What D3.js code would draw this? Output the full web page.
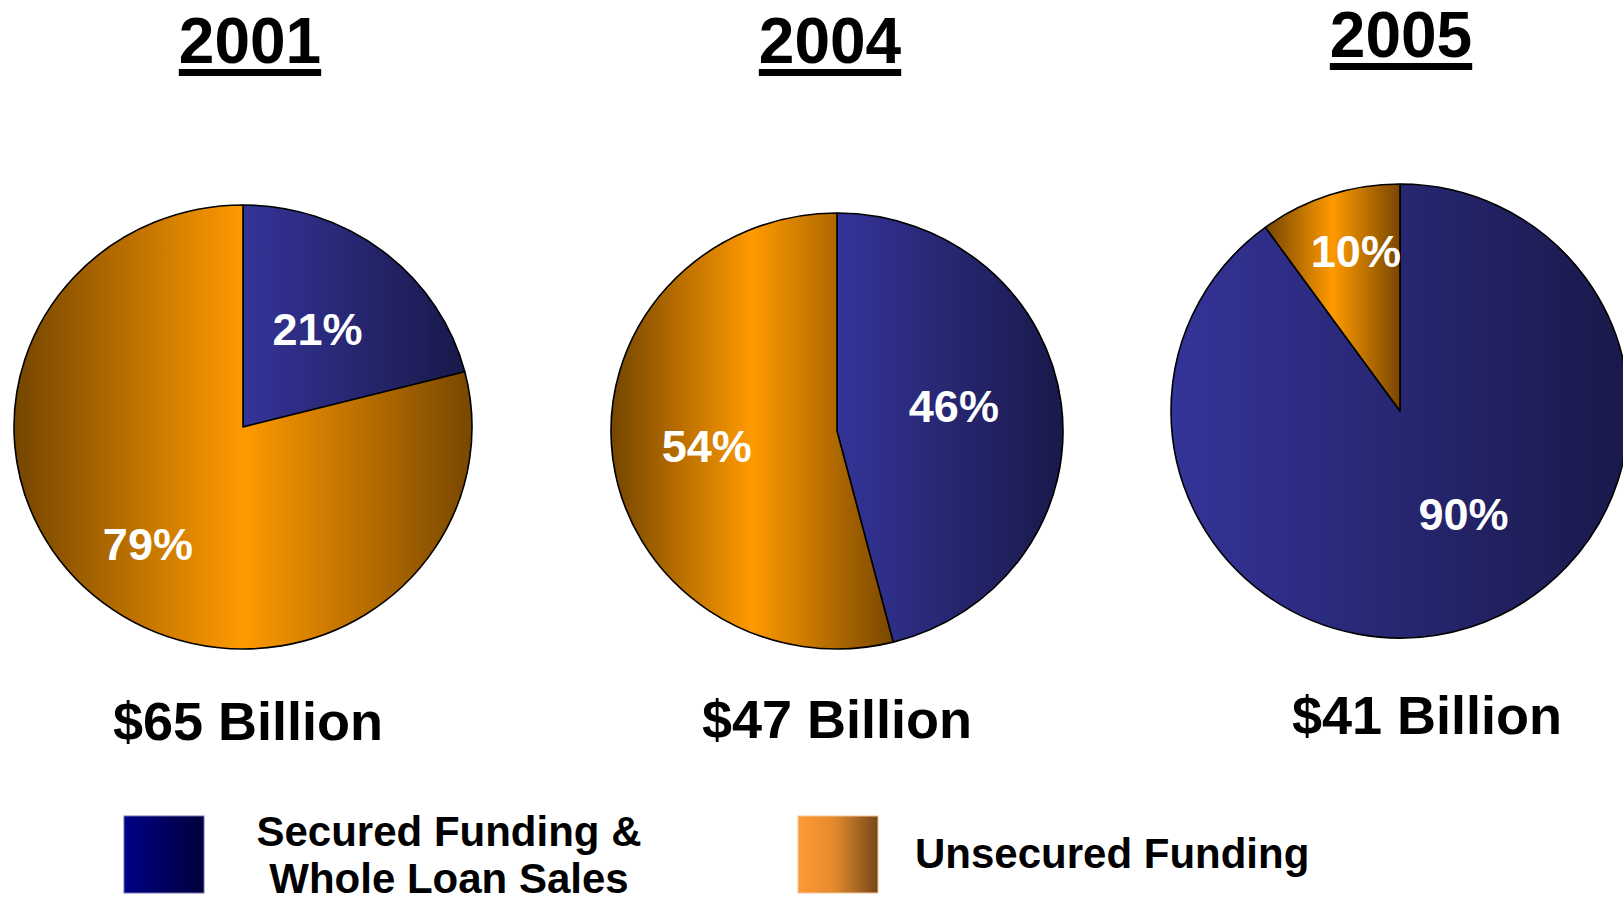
<!DOCTYPE html>
<html>
<head>
<meta charset="utf-8">
<script src="https://cdn.jsdelivr.net/npm/d3@7"></script>
<style>
  html, body { margin: 0; padding: 0; background: #ffffff; }
  svg { display: block; }
  text { font-family: "Liberation Sans", Arial, Helvetica, sans-serif; font-weight: bold; }
</style>
</head>
<body>
<svg id="chart" width="1623" height="901"></svg>
<script>
// ---- data ----
const years = ["2001", "2004", "2005"];
const totals = ["$65 Billion", "$47 Billion", "$41 Billion"];
const categories = ["Secured Funding & Whole Loan Sales", "Unsecured Funding"];
const legendLines = [["Secured Funding &", "Whole Loan Sales"], ["Unsecured Funding"]];
const securedPct = [21, 46, 90];
const unsecuredPct = [79, 54, 10];

// ---- layout (positions / sizes, not data) ----
const pieLayout = [
  { cx: 243, cy: 427, rx: 229, ry: 222, titleX: 250, titleY: 63, totalX: 248, totalY: 740,
    labelFrac: [0.55, 0.67], labelDA: [-1.5, 0.5] },
  { cx: 837, cy: 431, rx: 226, ry: 218, titleX: 830, titleY: 63, totalX: 837, totalY: 738,
    labelFrac: [0.53, 0.58], labelDA: [-5.4, 0.4] },
  { cx: 1400, cy: 411, rx: 229, ry: 227, titleX: 1401, titleY: 57, totalX: 1427, totalY: 734,
    labelFrac: [0.53, 0.73], labelDA: [-13.5, 2.7] }
];

const svg = d3.select("#chart");
const defs = svg.append("defs");

// slice gradients
const gBlue = defs.append("linearGradient").attr("id", "gBlue").attr("x1", 0).attr("x2", 1).attr("y1", 0).attr("y2", 0);
gBlue.append("stop").attr("offset", "0%").attr("stop-color", "#343499");
gBlue.append("stop").attr("offset", "100%").attr("stop-color", "#19194a");

const gOrange = defs.append("linearGradient").attr("id", "gOrange").attr("x1", 0).attr("x2", 1).attr("y1", 0).attr("y2", 0);
gOrange.append("stop").attr("offset", "0%").attr("stop-color", "#744500");
gOrange.append("stop").attr("offset", "50%").attr("stop-color", "#ff9a00");
gOrange.append("stop").attr("offset", "100%").attr("stop-color", "#784700");

// legend gradients
const lBlue = defs.append("linearGradient").attr("id", "lBlue").attr("x1", 0).attr("x2", 1).attr("y1", 0).attr("y2", 0);
lBlue.append("stop").attr("offset", "0%").attr("stop-color", "#000085");
lBlue.append("stop").attr("offset", "100%").attr("stop-color", "#00003c");

const lOrange = defs.append("linearGradient").attr("id", "lOrange").attr("x1", 0).attr("x2", 1).attr("y1", 0).attr("y2", 0);
lOrange.append("stop").attr("offset", "0%").attr("stop-color", "#ff9a36");
lOrange.append("stop").attr("offset", "45%").attr("stop-color", "#e48a2e");
lOrange.append("stop").attr("offset", "100%").attr("stop-color", "#744818");

const sliceFill = d3.scaleOrdinal().domain(categories).range(["url(#gBlue)", "url(#gOrange)"]);
const legendFill = d3.scaleOrdinal().domain(categories).range(["url(#lBlue)", "url(#lOrange)"]);

const pie = d3.pie().sort(null).value(d => d.value);

years.forEach((yr, i) => {
  const L = pieLayout[i];
  const data = [
    { cat: categories[0], value: securedPct[i] },
    { cat: categories[1], value: unsecuredPct[i] }
  ];
  const arcs = pie(data);
  const arc = d3.arc().innerRadius(0).outerRadius(L.ry);

  // pie, drawn as a slightly wide ellipse
  const g = svg.append("g")
    .attr("transform", `translate(${L.cx},${L.cy}) scale(${L.rx / L.ry},1)`);
  g.selectAll("path")
    .data(arcs)
    .join("path")
    .attr("d", arc)
    .attr("fill", d => sliceFill(d.data.cat))
    .attr("stroke", "#000")
    .attr("stroke-width", 1.6)
    .attr("stroke-linejoin", "round")
    .attr("vector-effect", "non-scaling-stroke");

  // percentage labels
  svg.selectAll(null)
    .data(arcs)
    .join("text")
    .attr("x", (d, k) => {
      const a = (d.startAngle + d.endAngle) / 2 + L.labelDA[k] * Math.PI / 180;
      return L.cx + L.labelFrac[k] * L.rx * Math.sin(a);
    })
    .attr("y", (d, k) => {
      const a = (d.startAngle + d.endAngle) / 2 + L.labelDA[k] * Math.PI / 180;
      return L.cy - L.labelFrac[k] * L.ry * Math.cos(a);
    })
    .attr("dy", "0.36em")
    .attr("text-anchor", "middle")
    .attr("fill", "#ffffff")
    .attr("font-size", 45)
    .text(d => d.data.value + "%");

  // year title with underline
  const t = svg.append("text")
    .attr("x", L.titleX)
    .attr("y", L.titleY)
    .attr("text-anchor", "middle")
    .attr("font-size", 64)
    .attr("fill", "#000")
    .text(yr);
  const w = t.node().getComputedTextLength();
  svg.append("rect")
    .attr("x", L.titleX - w / 2)
    .attr("y", L.titleY + 6)
    .attr("width", w)
    .attr("height", 7)
    .attr("fill", "#000");

  // total label
  svg.append("text")
    .attr("x", L.totalX)
    .attr("y", L.totalY)
    .attr("text-anchor", "middle")
    .attr("font-size", 54)
    .attr("fill", "#000")
    .text(totals[i]);
});

// ---- legend ----
const legendLayout = [
  { sx: 124, sy: 816, textX: 449, lineY: [846, 893], anchor: "middle" },
  { sx: 798, sy: 816, textX: 915, lineY: [868], anchor: "start" }
];
categories.forEach((c, i) => {
  const LL = legendLayout[i];
  svg.append("rect")
    .attr("x", LL.sx).attr("y", LL.sy)
    .attr("width", 80).attr("height", 77)
    .attr("fill", legendFill(c))
    .attr("stroke", i === 0 ? "#7070b0" : "#f3c69a")
    .attr("stroke-width", 1);
  const txt = svg.append("text")
    .attr("text-anchor", LL.anchor)
    .attr("font-size", 42)
    .attr("fill", "#000");
  legendLines[i].forEach((ln, k) => {
    txt.append("tspan").attr("x", LL.textX).attr("y", LL.lineY[k]).text(ln);
  });
});
</script>
</body>
</html>
